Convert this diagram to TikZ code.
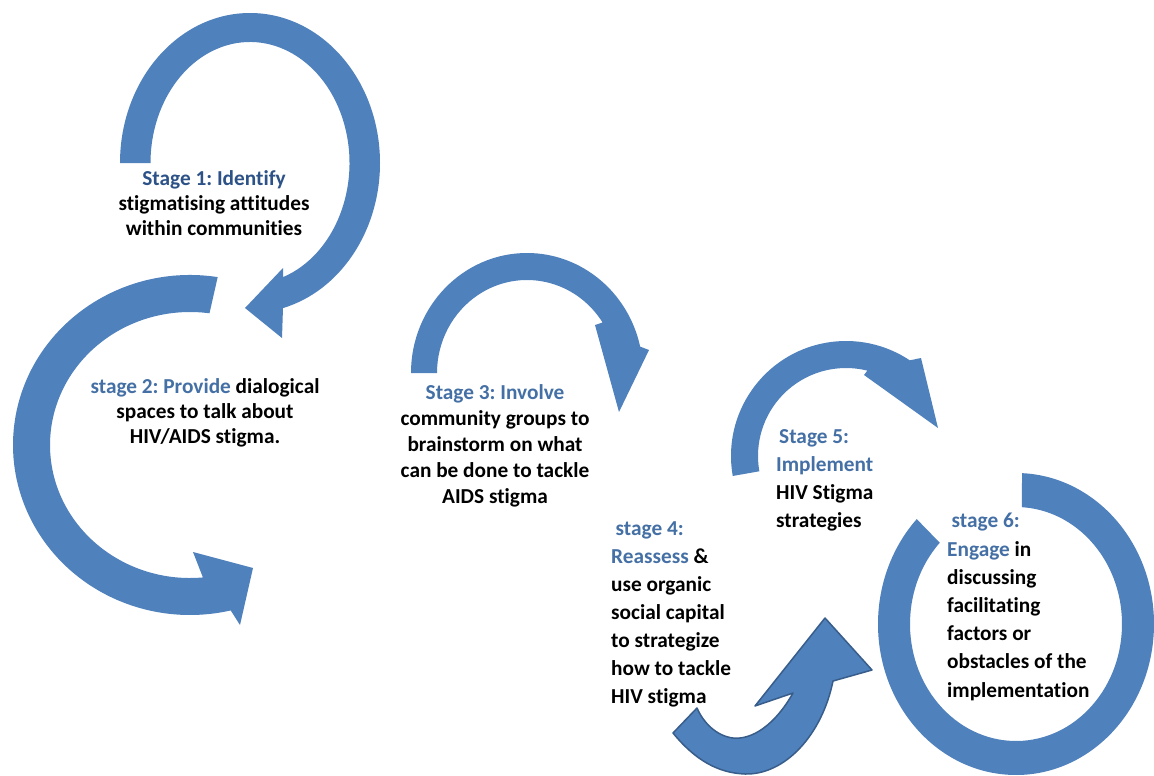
\documentclass[tikz,border=0pt]{standalone}
\usepackage{fontspec}
\setmainfont{Carlito}[Ligatures=NoCommon]
\usetikzlibrary{calc}
\frenchspacing
\definecolor{arrowblue}{HTML}{4F81BD}
\definecolor{arrowline}{HTML}{385D8A}
\definecolor{headdark}{HTML}{2C5287}
\definecolor{headblue}{HTML}{4470A5}
\tikzset{
  cyclearrow/.style={fill=arrowblue, draw=none},
  outlinedarrow/.style={fill=arrowblue, draw=arrowline, line width=1.5pt, line join=round},
  stagetext/.style={inner sep=0pt, text=black, font=\bfseries\fontsize{21.3}{#1}\selectfont},
  stagetext/.default=25
}
\newcommand{\hd}[1]{\textcolor{headdark}{#1}}
\newcommand{\hb}[1]{\textcolor{headblue}{#1}}
\begin{document}
\begin{tikzpicture}[x=1pt, y=-1pt]
\fill[white] (0,0) rectangle (1154,776);
\useasboundingbox (0,0) rectangle (1154,776);

% centres of the curved arrows
\coordinate (c1) at (250,163);
\coordinate (c2) at (190,445);
\coordinate (c3) at (527,373);
\coordinate (c5) at (846,456);
\coordinate (c6) at (1016,624);

% stage 1: loop over the top, head pointing down-left
\fill[cyclearrow] ($(c1)+(180:130 and 150)$)
  arc[start angle=180, end angle=435.3, x radius=130, y radius=150]
  -- (282,338) -- (245,308) -- (283,268)
  -- ($(c1)+(430.5:99.5 and 121)$)
  arc[start angle=430.5, end angle=180, x radius=99.5, y radius=121] -- cycle;

% stage 2: large C, head at the lower right
\fill[cyclearrow] ($(c2)+(279:177 and 170)$)
  arc[start angle=279, end angle=76.7, x radius=177, y radius=170]
  -- (240,625) -- (253,568) -- (193,552)
  -- ($(c2)+(84.7:140 and 133)$)
  arc[start angle=84.7, end angle=278, x radius=140, y radius=133] -- cycle;

% stage 3: arch, head pointing down
\fill[cyclearrow] ($(c3)+(180:116 and 120)$)
  arc[start angle=180, end angle=347.3, x radius=116, y radius=120]
  -- (649,350) -- (619,412) -- (595,325)
  -- ($(c3)+(327.1:90 and 93)$)
  arc[start angle=327.1, end angle=180, x radius=90, y radius=93] -- cycle;

% stage 5: arch, head pointing down-right
\fill[cyclearrow] ($(c5)+(170:115 and 115)$)
  arc[start angle=170, end angle=303.7, x radius=115, y radius=115]
  -- (921,358) -- (938,428) -- (864,375)
  -- ($(c5)+(284:88 and 88)$)
  arc[start angle=284, end angle=170, x radius=88, y radius=88] -- cycle;

% stage 6: open ring
\fill[cyclearrow] ($(c6)+(272.5:138 and 151)$)
  arc[start angle=272.5, end angle=584, x radius=138, y radius=151]
  -- ($(c6)+(584:106 and 117)$)
  arc[start angle=584, end angle=273.2, x radius=106, y radius=117] -- cycle;

% stage 4: curved upward arrow with outline
\draw[outlinedarrow] (697,708) -- (673,733)
  .. controls (695,760) and (718,773) .. (745,774)
  .. controls (785,775) and (822,735) .. (833,681)
  -- (872,670) -- (825,618) -- (755,706) -- (793,693)
  .. controls (775,725) and (752,740) .. (733,738)
  .. controls (716,736) and (703,722) .. (697,708) -- cycle;

% stage texts (each placed by the baseline of its last line)
\node[stagetext, anchor=base, align=center] (s1) at (214,235)
  {\hd{Stage 1: Identify}\\stigmatising attitudes\\within communities};
\node[stagetext, anchor=base, align=center] (s2) at (205,443)
  {\hb{stage 2: Provide} dialogical\\spaces to talk about\\HIV/AIDS stigma.};
\node[stagetext=26, anchor=base, align=center] (s3) at (495,503)
  {\hb{Stage 3: Involve}\\community groups to\\brainstorm on what\\can be done to tackle\\AIDS stigma};
\node[stagetext=28, anchor=base west, align=left] (s4) at (611,703)
  {\hspace*{4.5pt}\hb{stage 4:}\\\hb{Reassess} \&\\use organic\\social capital\\to strategize\\how to tackle\\HIV stigma};
\node[stagetext=28, anchor=base west, align=left] (s5) at (776,527)
  {\hspace*{3pt}\hb{Stage 5:}\\\hb{Implement}\\HIV Stigma\\strategies};
\node[stagetext=28.2, anchor=base west, align=left] (s6) at (947,697)
  {\hspace*{4.5pt}\hb{stage 6:}\\\hb{Engage} in\\discussing\\facilitating\\factors or\\obstacles of the\\implementation};
\end{tikzpicture}
\end{document}
